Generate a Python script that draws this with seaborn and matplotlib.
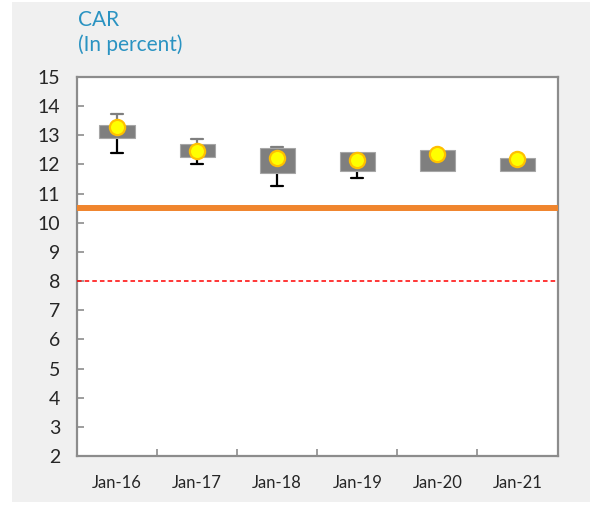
import numpy as np
import pandas as pd
import matplotlib
matplotlib.use("Agg")
import matplotlib.pyplot as plt
import seaborn as sns
from matplotlib.patches import Rectangle

# ─────────────────────────────────────────────
# DATA
# ─────────────────────────────────────────────
periods = ["Jan-16", "Jan-17", "Jan-18", "Jan-19", "Jan-20", "Jan-21"]
box_low = [12.92, 12.25, 11.72, 11.78, 11.78, 11.78]
box_high = [13.37, 12.69, 12.56, 12.42, 12.50, 12.22]
whisker_low = [12.40, 12.01, 11.26, 11.53, np.nan, np.nan]
whisker_high = [13.73, 12.87, 12.61, np.nan, np.nan, np.nan]
median_car = [13.28, 12.47, 12.21, 12.14, 12.35, 12.18]
min_requirement = 8.0
buffer_level = 10.5

df = pd.DataFrame({
    "period": periods,
    "low": box_low,
    "high": box_high,
    "wlow": whisker_low,
    "whigh": whisker_high,
    "median": median_car,
})
df["x"] = np.arange(len(df))

# ─────────────────────────────────────────────
# STYLE
# ─────────────────────────────────────────────
sns.set_style("white")
plt.rcParams["font.family"] = ["Lato", "DejaVu Sans"]

fig = plt.figure(figsize=(5.92, 5.07), dpi=100)
fig.patches.append(Rectangle((12 / 592, 5 / 507), 578 / 592, 500 / 507,
                             transform=fig.transFigure, facecolor="#f0f0f0",
                             edgecolor="none", zorder=-10))
ax = fig.add_axes([77 / 592, 51 / 507, 480.5 / 592, 379 / 507])
ax.set_facecolor("white")

# boxes (floating bars)
ax.bar(df["x"], df["high"] - df["low"], bottom=df["low"], width=0.44,
       color="#7f7f7f", edgecolor="#a6a6a6", linewidth=0.8, zorder=3)

# whiskers
cap = 0.075
for _, r in df.iterrows():
    if not np.isnan(r["wlow"]):
        ax.plot([r["x"], r["x"]], [r["wlow"], r["low"]], color="black", lw=1.6, zorder=2)
        ax.plot([r["x"] - cap, r["x"] + cap], [r["wlow"]] * 2, color="black", lw=1.6, zorder=2)
    if not np.isnan(r["whigh"]):
        ax.plot([r["x"], r["x"]], [r["high"], r["whigh"]], color="#7f7f7f", lw=1.6, zorder=2)
        ax.plot([r["x"] - cap, r["x"] + cap], [r["whigh"]] * 2, color="#7f7f7f", lw=1.6, zorder=2)

# reference lines
ax.axhline(buffer_level, color="#f0852d", lw=4.3, zorder=4)
ax.axhline(min_requirement, color="#ff0000", lw=1.1, ls=(0, (3, 2)), zorder=4)

# median dots
sns.scatterplot(data=df, x="x", y="median", ax=ax, s=120, color="#ffff00",
                edgecolor="#ffc000", linewidth=1.6, zorder=5, legend=False)

# ─────────────────────────────────────────────
# AXES
# ─────────────────────────────────────────────
ax.set_xlim(-0.5, len(df) - 0.5)
ax.set_ylim(2, 15)
ax.set_yticks(range(2, 16))
ax.set_xticks(df["x"])
ax.set_xticklabels(periods)
ax.set_xticks(np.arange(0.5, len(df) - 0.5), minor=True)
ax.set_xlabel("")
ax.set_ylabel("")

ax.tick_params(axis="y", which="major", direction="in", length=5, width=1.2,
               color="#8c8c8c", labelsize=14, pad=12, left=True)
ax.tick_params(axis="x", which="major", length=0, labelsize=12, pad=14)
ax.tick_params(axis="x", which="minor", direction="in", length=5, width=1.2,
               color="#8c8c8c", bottom=True)

for s in ax.spines.values():
    s.set_visible(True)
    s.set_color("#8c8c8c")
    s.set_linewidth(1.6)

fig.text(78 / 592, 1 - 20 / 507, "CAR", color="#2a93c2", fontsize=15, va="center")
fig.text(78 / 592, 1 - 45 / 507, "(In percent)", color="#2a93c2", fontsize=15, va="center")

fig.savefig("out.png", dpi=100, facecolor="white")
plt.close(fig)
